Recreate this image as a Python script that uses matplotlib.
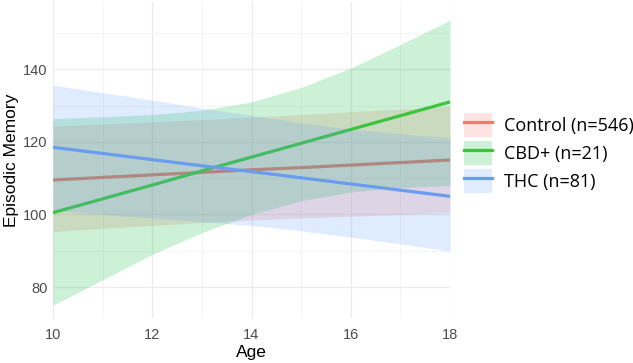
import matplotlib
matplotlib.use("Agg")
import matplotlib.pyplot as plt
from matplotlib.patches import Patch
from matplotlib.lines import Line2D
from matplotlib.legend_handler import HandlerTuple

plt.rcParams['font.family'] = ['Liberation Sans', 'DejaVu Sans']

groups = ["Control (n=546)", "CBD+ (n=21)", "THC (n=81)"]
colors = ["#F8766D", "#00BA38", "#619CFF"]
line_colors = ["#F8766D", "#3CC43C", "#6A9CF0"]

age = [10, 11, 12, 13, 14, 15, 16, 17, 18]

ctrl_fit = [109.5, 110.2, 110.9, 111.6, 112.3, 112.9, 113.6, 114.3, 115.0]
ctrl_hi = [124.3, 124.9, 125.5, 126.1, 126.8, 127.5, 128.3, 129.0, 129.8]
ctrl_lo = [95.3, 96.2, 97.0, 97.8, 98.5, 99.0, 99.5, 100.0, 100.6]

cbd_fit = [100.5, 104.3, 108.1, 112.0, 115.8, 119.6, 123.4, 127.2, 131.0]
cbd_hi = [126.4, 126.9, 127.5, 128.7, 131.0, 135.0, 140.3, 146.8, 153.5]
cbd_lo = [75.0, 82.0, 89.0, 95.0, 100.0, 103.8, 106.2, 107.4, 108.0]

thc_fit = [118.5, 116.8, 115.1, 113.4, 111.8, 110.1, 108.4, 106.7, 105.0]
thc_hi = [135.6, 133.5, 131.5, 129.3, 127.3, 125.2, 123.5, 122.2, 121.1]
thc_lo = [101.2, 100.0, 99.0, 98.0, 97.0, 95.5, 93.8, 91.9, 89.9]

fits = [ctrl_fit, cbd_fit, thc_fit]
his = [ctrl_hi, cbd_hi, thc_hi]
los = [ctrl_lo, cbd_lo, thc_lo]

fig = plt.figure(figsize=(6.33, 3.63), dpi=100)
ax = fig.add_axes([53/633, 1 - 318/363, (450 - 53)/633, (318 - 2)/363])

z = 2
for fit, hi, lo, c, lc in zip(fits, his, los, colors, line_colors):
    ax.fill_between(age, lo, hi, color=c, alpha=0.2, linewidth=0, zorder=z)
    ax.plot(age, fit, color=lc, lw=2.3, zorder=z + 1, solid_capstyle='butt')
    z += 2

ax.set_xlim(10, 18)
ax.set_ylim(71.5, 158.5)
ax.set_xticks([10, 12, 14, 16, 18])
ax.set_xticks([11, 13, 15, 17], minor=True)
ax.set_yticks([80, 100, 120, 140])
ax.set_yticks([90, 110, 130, 150], minor=True)
ax.grid(True, which='major', color='#EBEBEB', lw=0.9, zorder=0)
ax.grid(True, which='minor', color='#F3F3F3', lw=0.6, zorder=0)
ax.set_axisbelow(True)
for s in ax.spines.values():
    s.set_visible(False)
ax.tick_params(which='both', length=0, labelsize=10.5, labelcolor='#4D4D4D')
ax.tick_params(axis='x', pad=7)
ax.tick_params(axis='y', pad=4)
ax.set_xlabel("Age", fontsize=12.5, labelpad=2)
ax.set_ylabel("Episodic Memory", fontsize=12.5, labelpad=3)

handles = [(Patch(facecolor=c, alpha=0.2, edgecolor='none'), Line2D([], [], color=lc, lw=2.3))
           for c, lc in zip(colors, line_colors)]
leg = fig.legend(handles, groups, loc='center left', bbox_to_anchor=(462/633, 1 - 153/363),
                 frameon=False, prop={'family': 'Open Sans', 'size': 13},
                 handlelength=1.55, handleheight=1.65,
                 handletextpad=0.65, labelspacing=0.25, borderaxespad=0, borderpad=0.1,
                 handler_map={tuple: HandlerTuple(ndivide=1, pad=0)})

fig.savefig("out.png", dpi=100)
